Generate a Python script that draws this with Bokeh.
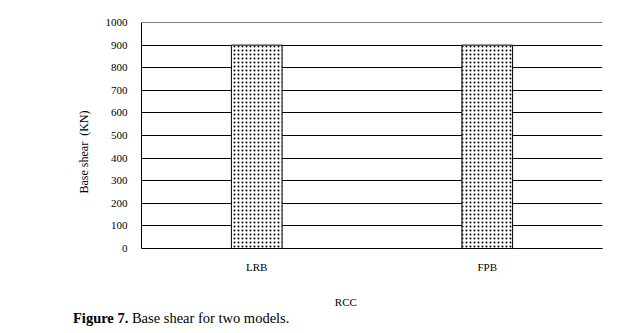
from bokeh.plotting import figure
from bokeh.models import FixedTicker, ColumnDataSource, Span, Div
from bokeh.layouts import column
from bokeh.embed import file_html
from bokeh.resources import INLINE

categories = ["LRB", "FPB"]
base_shear = [900, 900]
y_ticks = [0, 100, 200, 300, 400, 500, 600, 700, 800, 900, 1000]

FONT = "Liberation Serif"
NB = "\u00a0"

src = ColumnDataSource(data=dict(cat=categories, val=base_shear))

p = figure(x_range=categories, y_range=(0, 1000),
           width=632, height=300, output_backend="svg", toolbar_location=None,
           min_border_left=141, min_border_right=30, min_border_top=22, min_border_bottom=52,
           frame_width=461, frame_height=226, margin=(0, 0, 0, 0))
p.outline_line_color = None
p.background_fill_color = "white"

p.vbar(x="cat", top="val", width=0.22, source=src, fill_color="white",
       line_color="black", line_width=1, hatch_pattern="dot", hatch_color="black",
       hatch_scale=4, hatch_weight=1, level="overlay")

p.add_layout(Span(location=1000, dimension="width", line_color="black", line_width=1))

p.yaxis.ticker = FixedTicker(ticks=y_ticks)
p.yaxis.major_tick_line_color = None
p.yaxis.minor_tick_line_color = None
p.yaxis.axis_line_color = "black"
p.yaxis.major_label_text_font = FONT
p.yaxis.major_label_text_font_size = "11px"
p.yaxis.major_label_text_color = "black"
p.yaxis.major_label_standoff = 8
p.yaxis.axis_label = "Base shear" + NB + " (KN)" + NB * 11
p.yaxis.axis_label_text_font = FONT
p.yaxis.axis_label_text_font_size = "12px"
p.yaxis.axis_label_text_font_style = "normal"
p.yaxis.axis_label_text_color = "black"
p.yaxis.axis_label_standoff = 12

p.xaxis.major_tick_line_color = None
p.xaxis.axis_line_color = "black"
p.xaxis.major_label_text_font = FONT
p.xaxis.major_label_text_font_size = "11px"
p.xaxis.major_label_text_color = "black"
p.xaxis.major_label_standoff = 6
p.xaxis.axis_label = "RCC" + NB * 19
p.xaxis.axis_label_text_font = FONT
p.xaxis.axis_label_text_font_size = "11px"
p.xaxis.axis_label_text_font_style = "normal"
p.xaxis.axis_label_text_color = "black"
p.xaxis.axis_label_standoff = 20

p.xgrid.grid_line_color = None
p.ygrid.grid_line_color = "black"
p.ygrid.grid_line_width = 1
p.ygrid.ticker = FixedTicker(ticks=y_ticks)

caption = Div(text="<b>Figure 7.</b> Base shear for two models.", width=632, height=33,
              margin=(0, 0, 0, 0),
              styles={"font-family": FONT, "font-size": "14.5px", "color": "black",
                      "padding-left": "73px", "padding-top": "0px", "line-height": "16px",
                      "box-sizing": "border-box"})

layout = column(p, caption, margin=(0, 0, 0, 0), spacing=0)
open("out.html", "w").write(file_html(layout, INLINE))
